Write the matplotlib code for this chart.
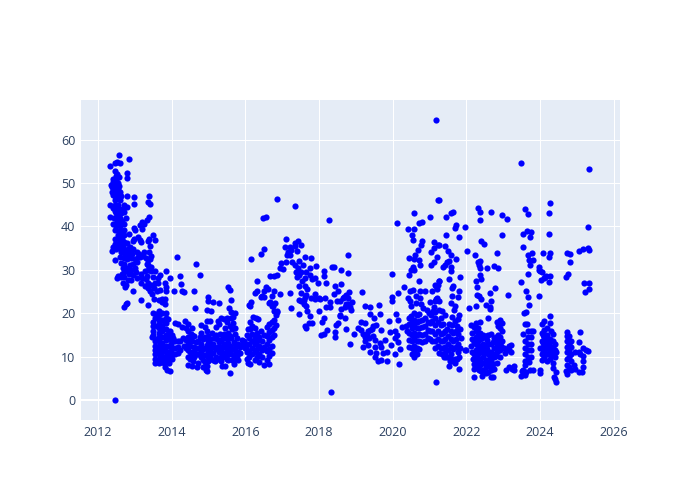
# -*- coding: utf-8 -*-
import matplotlib
matplotlib.use('Agg')
import matplotlib.pyplot as plt

plt.rcParams['font.family'] = ['Open Sans', 'DejaVu Sans']

# (year, value), one list per stretch of time
early_2012 = [(2012.46, 0.0),
    (2012.56,56.5),(2012.83,55.5),(2012.33,53.8),(2012.45,54.5),(2012.52,54.8),(2012.6,54.7),(2012.47,52.8),
    (2012.8,52.2),(2012.79,51.1),(2012.48,51.6),(2012.5,50.7),(2012.42,50.2),(2012.35,49.5),(2012.38,49),
    (2012.58,49.2),(2012.5,49.5),(2012.45,48.7),(2012.38,48),(2012.55,50),(2012.5,48),(2012.78,47),(2012.98,46.8),
    (2013.38,47),(2012.45,47),(2012.55,47),(2012.45,46),(2012.6,46),(2013.35,45.7),(2012.33,45),(2012.45,45),
    (2012.55,45),(2012.7,45),(2012.78,44.5),(2012.98,45.2),(2013.4,45.2),(2012.5,44),(2012.6,44),(2012.45,43.5),
    (2012.7,43.2),(2012.55,42.5),(2012.33,42.1),(2012.43,42),(2012.6,42),(2012.75,42),(2013.38,42.2),(2013.33,41.5),
    (2013.2,41),(2012.55,41),(2012.65,41.2),(2013.15,40.3),(2013.25,40.5),(2012.5,40),(2012.6,40),(2012.47,39.2),
    (2012.62,39),(2012.98,39.7),(2013.2,39.5),(2013.0,39.2),(2012.55,38),(2012.65,38.3),(2012.85,38.2),(2012.45,37),
    (2012.58,37.2),(2012.65,37),(2012.98,37),(2013.1,37.5),(2013.15,36.8),(2013.38,37.2),(2013.49,38),(2013.55,36.9),
    (2013.36,36.6),(2013.16,36.3),(2013.4,35.5),(2012.47,36),(2012.55,36),(2012.67,35.5),(2012.78,36.2),(2012.88,35.3),
    (2012.95,36.6),(2012.42,35.2),(2012.5,34.7),(2012.6,35),(2012.7,34.8),(2012.37,34.3),(2012.62,34),(2012.72,33.8),
    (2012.82,34),(2012.93,33.6),(2013.05,34),(2013.12,33.7),(2013.25,34),(2013.38,34),(2013.45,33.2),(2012.45,32.3),
    (2012.6,33),(2012.7,32.8),(2012.8,32.5),(2012.9,32.7),(2013.0,32.4),(2013.15,33),(2013.3,32.6),(2013.37,32.2),
    (2012.62,31.5),(2012.72,31.3),(2012.87,31.2),(2013.37,31),(2013.45,30.7),(2012.68,30.3),(2012.8,30.4),(2012.9,30),
    (2013.35,30),(2013.45,29.7),(2013.55,29.8),(2012.7,29.5),(2012.55,28.5),(2012.53,28),(2012.62,28.3),(2012.72,28.3),
    (2013.18,29),(2013.2,28),(2013.32,28.6),(2013.62,28),(2012.68,27),(2012.75,26.6),(2012.73,26),(2013.17,27),
    (2013.27,26.2),(2013.37,25.9),(2013.35,27),(2013.42,25.2),(2012.94,25.2),(2013.48,24.5),(2013.16,23.1),(2012.75,22.1),
    (2012.72,21.5),(2012.78,22.3),(2013.52,23.3),(2013.66,23),(2014.14,33),(2013.86,29.7),(2013.96,28.2),(2013.68,28.8),
    (2013.62,27),(2013.82,27),(2013.86,26.1),(2013.84,25.2),(2013.68,25.4),(2014.06,25.2),(2013.73,23.2),(2013.83,23.3),
    (2013.74,22.5),(2013.82,22.2),(2013.35,21.9),(2014.65,31.3),(2014.34,24.8)]

fill_2012 = [(2012.42,51),(2012.52,52),(2012.58,51.3),(2012.4,47.3),(2012.55,48.5),(2012.6,48),(2012.62,47),(2012.4,44.3),(2012.68,44),
    (2012.5,43),(2012.62,43),(2012.48,42),(2012.52,41.2),(2012.7,40.5),(2012.42,40.5),(2012.58,39),(2012.7,39.2),(2012.72,38),(2012.6,36.5),
    (2012.72,36.3),(2012.85,35),(2012.9,34.2),(2012.76,33),(2012.85,33.2),(2012.96,34.8),(2013.08,33),(2013.22,33.2),(2013.05,31.7),(2012.95,31.3),
    (2012.75,30),(2012.85,29),(2012.95,28.8),(2013.02,29.6),(2013.05,28),(2012.65,29),(2012.82,27.6),(2012.9,27.7),(2013.0,30.3),(2013.32,31.3),
    (2013.4,32.5),(2013.28,29.8),(2013.3,27.8),(2013.5,28.4),(2013.55,27),(2013.52,25.8),(2013.6,25.2),(2013.45,26.6)]

band_2013 = [(2013.5,20),(2013.55,19),(2013.5,18),(2013.5,17),(2013.5,16),(2013.5,15),(2013.48,14.5),(2013.55,13.5),(2013.55,12.5),
    (2013.55,11.5),(2013.55,10.5),(2013.55,9.5),(2013.55,8.5),(2013.65,20.5),(2013.65,19.5),(2013.65,18.5),(2013.65,17.5),
    (2013.65,16.5),(2013.65,15.5),(2013.65,14.5),(2013.65,13.5),(2013.65,12.5),(2013.65,11.5),(2013.65,10.5),(2013.65,9.5),
    (2013.65,8.6),(2013.75,20),(2013.75,18.5),(2013.75,17),(2013.75,15.8),(2013.75,14.5),(2013.75,13.2),(2013.75,12),
    (2013.75,11),(2013.75,10),(2013.75,9),(2013.85,20),(2013.85,19),(2013.85,17.8),(2013.85,16.3),(2013.85,15),(2013.85,13.8),
    (2013.85,12.5),(2013.85,11.3),(2013.85,10.2),(2013.85,9.2),(2013.82,7.5),(2013.87,7),(2013.93,14),(2013.93,12.5),
    (2013.93,11),(2013.93,9.5),(2013.95,6.7),(2013.98,12.8),(2013.98,11.3),(2013.98,9.8),(2014.02,13.5),(2014.02,12),
    (2014.02,10.5),(2014.02,9.5),(2014.08,17.8),(2014.08,13.5),(2014.1,12),(2014.1,10.5),(2014.17,13.5),(2014.17,12.2),(2014.17,10.8),
    (2013.6,17),(2013.7,16),(2013.8,18.2),(2013.7,13),(2013.8,12.2),(2013.9,15.3),(2013.95,15.9),(2013.9,10.5),(2013.7,8.7),(2013.8,8.5),
    (2013.6,14),(2013.6,11),(2013.92,8.6),(2014.02,15),(2014.05,14.2),(2013.58,19.8),(2013.9,18.6)]

band_2014 = [(2014.23,13.7),(2014.23,11.5),(2014.31,14.2),(2014.33,12.5),(2014.36,18.2),(2014.38,13.8),(2014.38,16.5),(2014.4,12),
    (2014.45,17.6),(2014.45,16),(2014.45,14.5),(2014.45,13),(2014.45,11.5),(2014.45,10),(2014.45,8),(2014.5,14),(2014.5,12.5),
    (2014.5,11),(2014.5,9.5),(2014.55,16.5),(2014.55,15),(2014.55,13.5),(2014.55,10.3),(2014.55,7.8),(2014.62,14.8),
    (2014.62,12.3),(2014.62,9.8),(2014.68,7.5),(2014.72,13.6),(2014.72,12),(2014.72,10.5),(2014.72,8.5),(2014.8,17.3),(2014.8,15.5),
    (2014.8,13),(2014.8,11),(2014.8,9.8),(2014.85,7.5),(2014.9,16.8),(2014.9,14.5),(2014.9,12),(2014.9,10.3),(2014.9,8.8),
    (2014.95,18.3),(2014.95,16),(2014.95,7.8),(2014.98,13.5),(2014.98,11),(2014.92,7),(2014.96,6.7),(2014.63,21.2),
    (2014.78,28.7),(2014.98,23.8),(2015.0,22.9),(2014.96,20.7),(2015.07,20.6),(2015.12,22.6),(2015.28,22.4),(2015.1,15.5),
    (2015.05,14),(2015.05,12),(2015.05,10),(2015.12,13),(2015.12,10.8),(2015.12,9.3),(2015.2,16.8),(2015.2,15),(2015.2,11.8),
    (2015.2,10),(2015.28,17.5),(2015.28,13.3),(2015.28,11),(2015.35,12.2),(2015.35,10),(2015.38,7.8),(2015.42,18.7),
    (2015.42,15.2),(2015.42,13),(2015.42,10.8),(2015.45,7.8),(2015.5,17.9),(2015.5,14),(2015.5,11.8),(2015.5,9.5),(2015.52,26),
    (2015.55,21.2),(2015.58,6.3),(2015.6,23),(2015.58,25.4),(2015.58,17),(2015.58,14.8),(2015.58,12.5),(2015.58,10.5),
    (2015.62,18.8),(2015.65,16.3),(2015.68,13.3),(2015.68,11.8),(2015.68,9.8),(2015.68,8.4),(2015.73,15.2),(2015.73,10.5),
    (2015.8,12.8),(2015.8,11),(2015.8,9.2),(2015.72,20),(2015.67,19.2),(2015.6,20.2),(2015.5,19),(2015.25,18.3),(2015.05,18.1),
    (2015.35,18.8),(2014.28,25),(2014.25,26.8),(2014.23,28.6),(2014.6,25.2),(2014.18,17.5),(2014.28,16.8)]

fill_2015 = [(2014.52,15.2),(2014.6,11.2),(2014.65,13.3),(2014.68,10.7),(2014.58,8.9),(2014.78,12),(2014.76,14.5),(2014.84,14),(2014.85,11.7),
    (2014.86,9.2),(2014.95,12.7),(2014.98,10),(2015.0,14.8),(2015.0,9),(2015.08,11),(2015.08,13),(2015.15,14.2),(2015.15,12.2),(2015.18,9),
    (2015.24,14),(2015.25,12.2),(2015.26,9.4),(2015.32,15.2),(2015.32,13.7),(2015.32,11),(2015.33,8.9),(2015.38,14),(2015.38,12),(2015.4,9.8),
    (2015.46,14.5),(2015.47,12.5),(2015.47,10.2),(2015.54,13.2),(2015.54,11),(2015.54,9.2),(2015.62,14.2),(2015.62,11.5),(2015.63,9.2),
    (2015.72,13),(2015.72,12),(2015.73,9.4),(2015.78,14.3),(2015.78,10.2),(2015.85,12.3),(2015.85,10.8),(2015.9,13.8),(2015.92,12.6),
    (2015.96,13.5),(2015.98,12),(2016.02,13),(2016.02,12),(2016.04,11),(2016.05,9.5),(2016.05,15),(2016.06,16.3),(2016.08,8.6),(2016.13,8.4),
    (2015.72,16.5),(2015.66,17.8),(2015.53,15.5),(2015.45,16.5)]

band_2016 = [(2016.16,32.4),(2016.33,27.3),(2016.31,25.2),(2016.15,22.5),(2016.1,22),(2016.12,21.6),(2016.25,24.6),(2016.42,23.7),
    (2016.5,23.7),(2016.43,33.6),(2016.5,34.8),(2016.47,42),(2016.57,42.2),(2016.2,19.2),(2016.28,19),(2016.35,18.7),
    (2016.12,18),(2016.12,16.3),(2016.18,17),(2016.18,15.2),(2016.18,13.5),(2016.18,12),(2016.18,10.5),(2016.1,14.3),
    (2016.1,12.8),(2016.1,11.3),(2016.1,9.8),(2016.25,16.5),(2016.25,14.5),(2016.25,12.8),(2016.25,11),(2016.25,9.2),
    (2016.32,15.5),(2016.32,13.5),(2016.32,11.8),(2016.32,10),(2016.38,14.5),(2016.38,12.5),(2016.38,10.5),(2016.38,8.8),
    (2016.43,16),(2016.45,13.5),(2016.45,11.5),(2016.45,9.8),(2016.5,15),(2016.5,12.2),(2016.5,8),(2016.58,16.8),(2016.58,14.8),
    (2016.58,13),(2016.58,11.2),(2016.58,9.3),(2016.63,8.2),(2016.65,17.5),(2016.65,15.7),(2016.65,13.8),(2016.65,11.8),
    (2016.65,10.2),(2016.72,18),(2016.72,16.2),(2016.72,14.5),(2016.72,12.5),(2016.72,10.8),(2016.78,20.5),(2016.78,18.5),
    (2016.78,16.7),(2016.78,15),(2016.82,19.5),(2016.82,17.3),(2016.85,20.3),(2016.63,22.4),(2016.72,21.6),(2016.8,22.3),
    (2016.87,20.6),(2016.5,25.1),(2016.55,26),(2016.45,24),(2016.72,24),(2016.78,25),(2016.62,25.5),(2016.68,28.6),
    (2016.78,28.6),(2016.85,28.7),(2016.95,30.4),(2016.87,46.3),(2016.74,21.6),(2016.94,24.4),(2016.68,22.5)]

mid_2017 = [(2017.34,44.6),(2017.11,37.1),(2017.43,36.7),(2017.34,36.1),(2017.5,35.6),(2017.07,35.2),(2017.2,35.3),(2017.25,34.6),
    (2017.41,34.4),(2017.16,34),(2017.13,33.3),(2017.61,33),(2017.77,32.6),(2017.28,31.7),(2017.45,32),(2017.34,31),(2017.57,31),
    (2017.75,30.5),(2017.93,30.9),(2017.38,29.6),(2017.47,28.8),(2017.75,28.8),(2017.61,28),(2017.88,28),(2017.97,26.9),
    (2018.18,27),(2017.47,26.3),(2017.61,26.3),(2017.68,25.5),(2017.22,24.7),(2017.52,24.7),(2017.61,23.8),(2017.88,24.4),
    (2017.79,23.4),(2018.02,23.3),(2018.15,23.4),(2017.5,22.8),(2018.31,22.5),(2018.29,21.5),(2018.2,21.4),(2017.66,21.7),
    (2017.25,21.1),(2017.67,20.6),(2018,20.4),(2017.47,19.9),(2017.75,19.4),(2018.13,18.8),(2018.09,18),(2017.73,17.8),
    (2017.61,17.1),(2017.66,16.5),(2017.82,17.8),(2018.23,16.1),(2018.06,15),(2018.13,15.1),(2017.42,30.3),(2017.4,28.4),
    (2017.52,29.5),(2017.55,27.5),(2017.66,29.5),(2017.1,31.8),(2017.2,33.4),(2017.02,30.2),(2016.98,31.5),(2017.36,35.5),
    (2017.58,23),(2017.6,22.2),(2017.9,23.3),(2018.0,23.6),(2017.47,23.1),(2017.65,24.2),(2017.8,27.8),(2018.28,41.5),
    (2018.35,30.7),(2018.4,30.7),(2018.6,30),(2018.79,29.2),(2018.13,29.8),(2018.13,28.6),(2018.8,33.4),(2018.43,26.3),
    (2018.6,26.7),(2018.52,25.2),(2018.4,24.4),(2018.81,24.8),(2018.74,24.2),(2018.65,23.4),(2018.49,22.8),(2018.56,22.8),
    (2018.9,22.5),(2018.79,22.1),(2018.7,21.5),(2018.6,20.9),(2018.86,20.7),(2018.56,19.6),(2018.71,18.9),(2018.52,17.8),
    (2018.45,17.3),(2018.72,16.3),(2018.43,15.6),(2018.43,14.6),(2018.83,13),(2018.32,1.8),(2018.76,21.9),(2018.68,23.8),
    (2018.84,21.5),(2018.58,19.3),(2018.72,22.2),(2018.78,23.5)]

mid_2019 = [(2019.17,24.9),(2019.24,21.7),(2019.39,21.4),(2019.62,22),(2019.39,19.7),(2019.48,19),(2019.65,19.8),(2019.9,18.2),
    (2019.15,18),(2019.24,17.7),(2019.06,16.7),(2019.15,16.1),(2018.95,15.1),(2019.2,15.1),(2019.29,15.3),(2019.38,16.1),
    (2019.47,17),(2019.56,17.2),(2019.43,16.3),(2019.69,16.2),(2019.34,15.8),(2019.24,14.6),(2019.47,14.7),(2019.36,14.2),
    (2019.51,13.8),(2019.78,13.9),(2019.65,13.2),(2019.19,12.1),(2019.34,12.6),(2019.51,12.1),(2019.69,12.3),(2019.96,12.7),
    (2019.38,11.1),(2019.56,10.8),(2019.74,10.8),(2019.85,11.1),(2019.51,9.8),(2019.6,9),(2019.69,9.2),(2019.85,9),
    (2020.16,8.4),(2020.06,10.6),(2020.2,11.7),(2020.15,13.4),(2020.06,14.2),(2019.93,15.7),(2020.06,15.9),(2020.11,14.9),
    (2020.1,19.7),(2020.15,18.4),(2019.99,29),(2020.15,24.6),(2019.99,23.7),(2019.97,22.7),(2019.3,14.8),(2019.25,13.6)]

upper_2020 = [(2020.13,40.8),(2020.42,39.4),(2020.58,39.4),(2020.59,43),(2020.71,40.8),(2020.8,40.9),(2021,42.2),(2020.53,38),
    (2020.55,36.9),(2020.8,36.6),(2020.76,35.6),(2020.7,34.6),(2021.12,36.5),(2021.23,35.6),(2021.11,34.9),(2021.03,34),
    (2021.2,32.9),(2020.43,32.8),(2020.6,33.4),(2020.58,32.4),(2020.71,32.3),(2020.73,31.1),(2021.12,31.7),(2021.05,31),
    (2020.55,30.7),(2020.49,30),(2020.58,30),(2020.43,28.8),(2020.71,27.5),(2020.32,26),(2020.46,25.1),(2020.55,25.3),
    (2020.73,25.2),(2020.89,25),(2020.42,23.6),(2020.46,22.7),(2020.62,24),(2020.73,23.6),(2020.64,22.3),(2020.78,22.1),
    (2020.5,21.7),(2020.83,21.3),(2021,22.5),(2021.14,22.9),(2021.16,26.5),(2021.25,27.3),(2021.18,64.6),(2021.24,46),
    (2021.17,4.2),(2021.08,25.2),(2021.2,23.5),(2021.12,21.5),(2020.93,20.8),(2021.1,20.4),(2020.98,20.1)]

band_2020 = [(2020.35,17.1),(2020.25,16.8),(2020.38,15.8),(2020.45,18.8),(2020.45,17.5),(2020.45,15.5),(2020.45,13.8),(2020.45,12.3),
    (2020.5,19.3),(2020.52,18),(2020.52,16.5),(2020.52,15),(2020.52,13.5),(2020.52,12),(2020.52,10.5),(2020.58,20),(2020.58,18.5),
    (2020.58,17),(2020.58,15.5),(2020.58,14),(2020.58,12.5),(2020.58,11),(2020.58,9.8),(2020.65,19.5),(2020.65,18),(2020.65,16.5),
    (2020.65,15),(2020.65,13.5),(2020.65,12),(2020.65,10.5),(2020.72,19.8),(2020.72,18.2),(2020.72,16.7),(2020.72,15.2),(2020.72,13.5),
    (2020.72,11.8),(2020.8,18.5),(2020.8,16.8),(2020.8,15),(2020.8,13.3),(2020.88,18.8),(2020.88,17),(2020.88,15.3),(2020.88,13.5),
    (2020.95,18),(2020.95,16.2),(2020.95,14.3),(2021.02,17.8),(2021.02,15.8),(2021.02,14),(2021.08,18.3),(2021.08,16),(2021.08,13.5),
    (2021.15,19),(2021.15,17.3),(2021.15,15.3),(2021.15,13.5),(2021.15,12),(2021.22,18),(2021.22,16),(2021.22,14),(2021.22,12.5),
    (2021.3,19),(2021.3,17.2),(2021.3,15.3),(2021.3,13.5),(2021.3,12),(2021.37,17.5),(2021.37,15.5),(2021.37,13.5),(2021.37,12),
    (2021.43,16),(2021.43,14),(2021.43,12.2),(2021.43,10.8),(2021.5,14.8),(2021.5,13),(2021.5,11.5),(2021.5,10),(2021.53,17.4),
    (2021.58,14),(2021.58,12.3),(2021.58,10.6),(2021.65,15.5),(2021.65,13.5),(2021.65,11.8),(2021.7,9.5),(2021.72,15.8),(2021.72,14),
    (2021.72,12.2),(2021.78,15.3),(2021.78,13),(2021.78,11),(2021.8,7.1),(2021.85,14.2),(2021.95,11.5),(2021.05,19.5),(2021.15,20.3),
    (2021.53,7.8),(2021.46,9.8),(2021.58,9.5),
    (2021.27,10.8),(2021.35,10.6),(2021.4,9.9),(2021.55,8.9),(2021.62,9),(2021.7,8.5),(2021.75,9.5),(2021.8,10),(2021.83,12),
    (2021.48,16.4),(2021.58,16),(2021.62,17.2),(2021.75,17),(2021.82,16.4),(2021.68,18.2)]

upper_2021 = [(2021.27,46),(2021.46,42.2),(2021.59,43),(2021.64,43.3),(2021.71,40.3),(2021.7,39.6),(2021.95,39.8),(2021.45,38),
    (2021.81,37.6),(2021.26,35.6),(2021.41,35.5),(2021.5,34.4),(2021.57,33.3),(2021.72,32.4),(2021.53,32),(2021.41,31),(2021.37,30.6),
    (2021.59,30.7),(2021.59,29.8),(2021.47,31.7),(2021.82,28.3),(2021.53,27.8),(2021.27,27.5),(2021.23,26.5),(2021.18,26.3),
    (2021.21,25.6),(2021.64,26.3),(2021.6,25.7),(2021.79,25),(2021.6,24),(2021.77,23.7),(2021.57,22.3),(2021.68,21.7),(2021.17,23.3),
    (2021.27,22.8),(2021.66,20.7),(2021.33,20.6),(2021.8,19.6),(2021.62,19.2),(2021.76,18.7),(2021.42,19.5),(2021.25,20.8)]

upper_2022 = [(2022.31,44.2),(2022.36,43.2),(2022.36,41.5),(2022.68,43.2),(2022.97,42.7),(2023.11,41.6),(2022.97,37.9),(2022.41,36.7),
    (2022.47,35.9),(2022.03,34.4),(2022.23,33.3),(2022.83,33.9),(2022.38,32.1),(2022.32,31.7),(2022.35,31),(2022.38,30.3),(2022.56,30.3),
    (2022.75,30.9),(2022.86,30.4),(2022.36,28.8),(2022.39,27.8),(2022.25,27.3),(2022.3,26.1),(2022.77,25.7),(2022.63,24.6),(2023.14,24.2),
    (2022.29,24.2),(2022.34,24),(2022.41,23.3),(2022.68,22.8),(2022.52,21.9),(2022.27,21.7),(2022.63,21.5),(2022.65,20.9),(2022.07,21.3),
    (2022.59,19),(2023.47,54.6)]

band_2022 = [(2022.0,11.6),(2022.12,17.3),(2022.15,15.5),(2022.15,14),(2022.12,12.5),(2022.15,11),(2022.18,9.5),(2022.25,17.8),(2022.25,16),
    (2022.25,14.5),(2022.25,13),(2022.25,11.5),(2022.25,10),(2022.22,8.3),(2022.22,7.2),(2022.22,5.4),(2022.32,16.5),(2022.32,15),
    (2022.32,13.5),(2022.32,12),(2022.32,10.5),(2022.32,9),(2022.3,7.5),(2022.38,18),(2022.38,15.5),(2022.38,14),(2022.38,12.5),(2022.38,11),
    (2022.38,9.5),(2022.38,8),(2022.4,6.8),(2022.45,15),(2022.45,13),(2022.45,11.5),(2022.45,10),(2022.45,8.5),(2022.45,7),(2022.42,5.6),
    (2022.52,14.8),(2022.52,12.5),(2022.52,11),(2022.52,9.3),(2022.52,7.5),(2022.52,6.2),(2022.6,15),(2022.6,13),(2022.6,10.5),(2022.6,8.5),
    (2022.6,6.5),(2022.68,15.2),(2022.68,12.8),(2022.68,11),(2022.68,9),(2022.68,7),(2022.68,5.4),(2022.75,14.2),(2022.75,12),(2022.75,9.8),
    (2022.75,7.2),(2022.72,5.2),(2022.83,18),(2022.85,17),(2022.85,15),(2022.83,12.8),(2022.83,11),(2022.83,8.5),(2022.9,18.5),(2022.9,16.5),
    (2022.92,14.5),(2022.92,11.5),(2022.92,10),(2022.97,17.7),(2022.97,15.8),(2022.97,13.5),(2023.05,10.8),(2023.08,7),(2023.17,11.5),
    (2023.15,7.6),(2023.2,12.7),(2023.2,11),(2023.25,7.2),(2023.3,7.8),(2023.3,6.9),(2023.17,12.5),
    (2022.2,16.8),(2022.2,13.3),(2022.2,10.5),(2022.28,8.8),(2022.35,7),(2022.42,14.4),(2022.48,10.8),(2022.48,12.2),(2022.56,8),(2022.56,11.8),
    (2022.56,13.8),(2022.64,9.8),(2022.64,7.8),(2022.72,13.4),(2022.72,10.5),(2022.72,8.3),(2022.8,14.6),(2022.8,10.2),(2022.87,12.1),(2022.87,13.7),
    (2022.95,12.5),(2023.02,11.9),(2023.1,11.8)]

upper_2023 = [(2023.6,43.9),(2023.68,42.9),(2024.27,45.3),(2024.24,43.1),(2024.25,38.2),(2025.29,39.8),(2025.32,53.2),(2023.54,38.2),(2023.65,38.9),
    (2023.75,38.6),(2023.74,37.6),(2023.53,35.2),(2023.68,33.5),(2023.77,33.9),(2023.71,32.3),(2023.8,32.2),(2023.74,31.1),(2023.66,29.1),
    (2023.47,27.2),(2023.62,25),(2023.67,23.7),(2023.96,24),(2023.69,21.9),(2023.63,20.3),(2023.56,20.1),(2024.08,33.9),(2024.28,33.8),
    (2024.23,33),(2023.96,30.6),(2024.04,29.4),(2024.17,28.6),(2024.27,28.6),(2024.02,27.6),(2024.25,27.1),(2024.73,33.9),(2024.8,33.6),
    (2024.82,31.9),(2024.76,29.1),(2024.71,28.4),(2025.06,34.4),(2025.17,34.8),(2025.3,35.1),(2025.33,34.6),(2025.18,27),(2025.32,26.9),
    (2025.33,25.5),(2025.21,24.8),(2023.97,30),(2024.1,28.2),(2024.0,29.8),(2024.13,28.3)]

band_2023 = [(2023.58,17.5),(2023.65,17.5),(2023.55,15.2),(2023.6,13.5),(2023.6,12),(2023.6,10.5),(2023.6,9),(2023.55,7),(2023.5,6.8),(2023.47,5.5),
    (2023.68,16),(2023.68,14.5),(2023.68,13),(2023.68,11.5),(2023.68,10),(2023.6,8),(2023.6,5.7),(2023.75,16),(2023.75,14.5),(2023.75,13),
    (2023.75,11.5),(2023.75,10),(2023.7,8.8),(2023.72,7),(2023.82,16),(2023.8,7),(2023.62,6.5),(2024.0,12),(2024.0,7),(2024.0,6.2),(2024.05,17.5),
    (2024.05,15.5),(2024.05,13.5),(2024.05,12),(2024.05,10.5),(2024.05,9.2),(2024.12,18.1),(2024.12,16.2),(2024.12,14.5),(2024.12,13),(2024.12,11.5),
    (2024.12,10),(2024.2,16.5),(2024.2,15),(2024.2,13.5),(2024.2,12),(2024.2,10.5),(2024.2,9),(2024.27,19.4),(2024.27,17.8),(2024.27,14),
    (2024.27,12.5),(2024.27,11),(2024.27,9.5),(2024.35,15.3),(2024.35,13.5),(2024.35,12),(2024.35,10.5),(2024.35,8.5),(2024.35,7.3),(2024.37,5.2),
    (2024.4,13),(2024.4,11.5),(2024.4,10),(2024.4,4.8),(2024.42,4.2),(2024.42,6.5),(2024.73,15.7),(2024.73,14.8),(2024.73,13.5),(2024.73,12.2),
    (2024.73,11),(2024.73,9.5),(2024.73,8),(2024.7,6.6),(2024.73,6),(2024.78,14.8),(2024.78,13),(2024.78,11.5),(2024.78,10),(2024.78,7.5),
    (2024.83,13.5),(2024.83,12.3),(2024.83,10.5),(2024.83,9),(2024.83,6.9),(2024.95,11),(2024.92,8),(2024.95,7.2),(2025.05,11),(2025.05,13.3),
    (2025.09,15.7),(2025.05,6.5),(2025.17,12),(2025.17,10.2),(2025.17,9),(2025.17,7.6),(2025.15,6.5),(2025.25,11.5),(2025.3,11.2),(2025.08,10.5),
    (2024.08,11),(2024.08,13.2),(2024.16,12.5),(2024.16,14),(2024.24,11.8),(2024.24,13.3),(2024.3,10.3),(2024.3,16),(2024.42,11),(2024.08,15)]

all_segments = [early_2012, fill_2012, band_2013, band_2014, fill_2015, band_2016, mid_2017, mid_2019, upper_2020, band_2020,
                upper_2021, upper_2022, band_2022, upper_2023, band_2023]

years = [p[0] for seg in all_segments for p in seg]
values = [p[1] for seg in all_segments for p in seg]

x_ticks = [2012, 2014, 2016, 2018, 2020, 2022, 2024, 2026]
y_ticks = [0, 10, 20, 30, 40, 50, 60]

fig = plt.figure(figsize=(7, 5), dpi=100, facecolor='white')
ax = fig.add_axes([81 / 700, 1 - 420 / 500, 539 / 700, 320 / 500], facecolor='#E5ECF6')
ax.scatter(years, values, s=20, c='#0000ff', linewidths=0, zorder=3)
ax.set_xlim(2011.54, 2026.17)
ax.set_ylim(-4.6, 69.1)
ax.set_xticks(x_ticks)
ax.set_yticks(y_ticks)
ax.grid(True, color='white', linewidth=0.72, zorder=1)
ax.axhline(0, color='white', linewidth=1.44, zorder=2)
for side in ax.spines.values():
    side.set_visible(False)
ax.tick_params(length=0, labelsize=9, labelcolor='#2a3f5f', pad=4)

plt.savefig('out.png', dpi=100, facecolor='white')
